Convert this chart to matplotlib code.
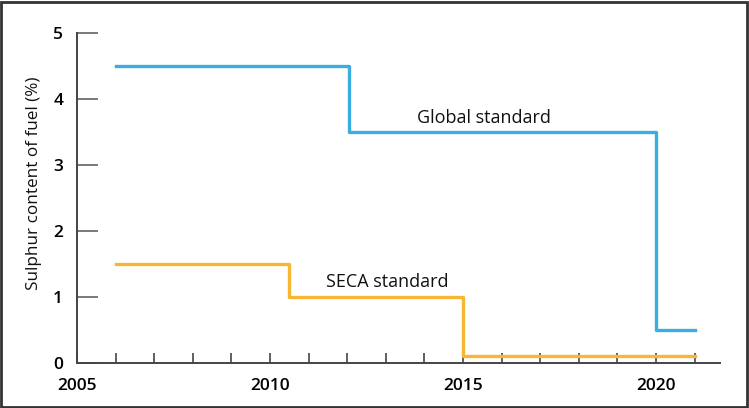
import matplotlib.pyplot as plt
from matplotlib.patches import Rectangle

# step data: years where each level starts, plus end year
global_years = [2006, 2012.05, 2020, 2021]
global_vals = [4.5, 3.5, 0.5, 0.5]
seca_years = [2006, 2010.5, 2015, 2021]
seca_vals = [1.5, 1.0, 0.1, 0.1]

x_major = [2005, 2010, 2015, 2020]
x_minor = list(range(2006, 2022))
y_ticks = [0, 1, 2, 3, 4, 5]

plt.rcParams['font.family'] = ['Open Sans', 'DejaVu Sans']

fig = plt.figure(figsize=(7.49, 4.08), dpi=100)
ax = fig.add_axes([77/749, 45/408, (720-77)/749, (363-33)/408])

ax.step(global_years, global_vals, where='post', color='#3aaee0', lw=2.4)
ax.step(seca_years, seca_vals, where='post', color='#f8b733', lw=2.4)

ax.text(2015.55, 3.71, 'Global standard', ha='center', va='center', fontsize=13,
        color='#111111', fontweight='medium')
ax.text(2013.05, 1.23, 'SECA standard', ha='center', va='center', fontsize=13,
        color='#111111', fontweight='medium')

ax.set_xlim(2005, 2021.66)
ax.set_ylim(0, 5)
ax.set_xticks(x_major)
ax.set_xticks(x_minor, minor=True)
ax.set_yticks(y_ticks)
ax.tick_params(axis='x', which='both', direction='in', length=7, width=1.2,
               color='#444444', labelsize=12.5, pad=11)
ax.tick_params(axis='y', direction='in', length=15, width=1.1,
               color='#555555', labelsize=12.5, pad=10)
for lab in ax.get_xticklabels() + ax.get_yticklabels():
    lab.set_fontweight('semibold')

ax.set_ylabel('Sulphur content of fuel (%)', fontsize=12.3, color='#111111')
ax.yaxis.set_label_coords(-35/643, 0.545)
ax.spines['top'].set_visible(False)
ax.spines['right'].set_visible(False)
for s in ['left', 'bottom']:
    ax.spines[s].set_color('#444444')
    ax.spines[s].set_linewidth(1.4)

# outer frame
fig.patches.append(Rectangle((0.002, 0.003), 0.995, 0.993, transform=fig.transFigure,
                             fill=False, edgecolor='#333333', lw=2))

fig.savefig('out.png', dpi=100)
